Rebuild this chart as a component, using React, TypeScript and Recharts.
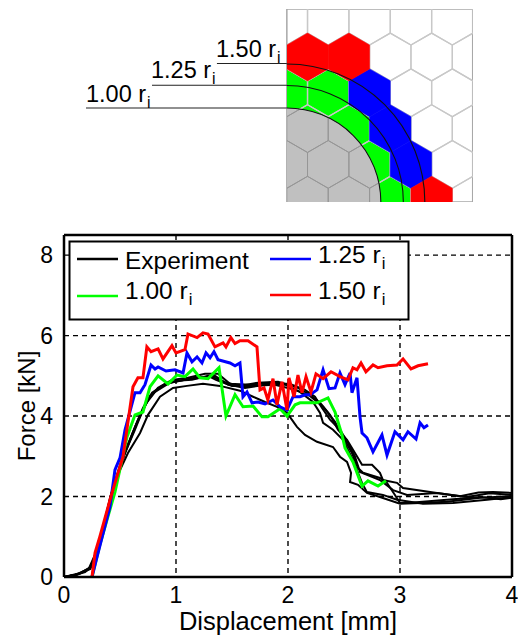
import { ComposedChart, Line, XAxis, YAxis, CartesianGrid, ReferenceLine, ScatterChart, Scatter, ReferenceArea } from 'recharts';

const FONT = '"Liberation Sans", Arial, sans-serif';

// force-displacement curves, [displacement mm, force kN]
const exp1 = [[0,0],[.098,.05],[.188,.12],[.25,.27],[.321,.8],[.42,1.99],[.5,2.66],[.571,3.08],[.679,3.58],[.75,4.03],[.857,4.48],[.973,4.7],[1.098,4.75],[1.241,4.8],[1.393,4.75],[1.571,4.63],[1.688,4.48],[1.795,4.35],[1.902,4.23],[1.991,4.08],[2.08,3.73],[2.152,3.53],[2.259,3.36],[2.402,3.23],[2.464,2.99],[2.527,2.86],[2.563,2.59],[2.554,2.36],[2.625,2.29],[2.705,2.09],[2.821,1.99],[3,1.82],[3.179,1.84],[3.42,1.87],[3.714,1.97],[4,2.01]];
const exp2 = [[0,0],[.125,.07],[.232,.22],[.304,.72],[.42,2.04],[.518,2.91],[.634,3.66],[.723,4.28],[.813,4.6],[.946,4.83],[1.08,4.9],[1.214,4.95],[1.348,5],[1.464,4.78],[1.616,4.7],[1.795,4.78],[1.973,4.78],[2.107,4.6],[2.223,4.35],[2.286,4.08],[2.313,3.83],[2.402,3.66],[2.491,3.41],[2.58,2.91],[2.661,2.34],[2.705,2.11],[2.848,2.04],[2.973,1.92],[3.205,1.82],[3.473,1.84],[3.777,1.92],[4,1.99]];
const exp3 = [[0,0],[.1,.05],[.22,.2],[.3,.7],[.429,2.11],[.536,3.01],[.643,3.78],[.75,4.4],[.839,4.7],[.964,4.9],[1.107,4.95],[1.259,5.05],[1.375,5.05],[1.482,4.8],[1.661,4.78],[1.839,4.83],[2.018,4.8],[2.152,4.65],[2.241,4.48],[2.304,4.2],[2.375,3.91],[2.464,3.66],[2.536,3.33],[2.598,2.99],[2.643,2.61],[2.821,2.41],[2.938,2.16],[3.063,2.04],[3.33,2.09],[3.598,1.99],[3.8,2.08],[4,2.04]];
const exp4 = [[0,0],[.15,.1],[.24,.25],[.31,.75],[.411,1.97],[.509,2.86],[.616,3.61],[.705,4.2],[.786,4.58],[.902,4.8],[1.036,4.88],[1.17,4.95],[1.321,4.98],[1.429,4.85],[1.571,4.75],[1.732,4.83],[1.911,4.85],[2.089,4.7],[2.196,4.53],[2.286,4.33],[2.375,4.03],[2.446,3.66],[2.527,3.41],[2.625,2.96],[2.661,2.79],[2.75,2.79],[2.821,2.59],[2.848,2.41],[2.973,2.34],[3.027,2.21],[3.33,2.09],[3.536,2.01],[3.7,2.1],[3.83,2.11],[4,2.09]];
const exp5 = [[0,0],[.12,.06],[.235,.2],[.31,.7],[.4375,2.16],[.545,3.11],[.661,3.91],[.768,4.5],[.875,4.75],[1,4.88],[1.143,4.9],[1.286,5],[1.357,4.9],[1.5,4.75],[1.679,4.75],[1.884,4.78],[2.063,4.65],[2.196,4.5],[2.313,4.23],[2.42,3.86],[2.491,3.48],[2.571,3.08],[2.625,2.71],[2.67,2.59],[2.821,2.46],[2.884,2.34],[2.955,2.04],[3,1.84],[3.063,1.84],[3.42,1.92],[3.714,1.99],[3.9,1.93],[4,1.97]];
const green100 = [[.25,0],[.32,.8],[.455,2.11],[.5625,3.48],[.634,4.03],[.705,4.1],[.768,4.73],[.84,5],[.929,4.8],[1.009,5.02],[1.08,4.98],[1.152,5.17],[1.214,4.95],[1.286,4.93],[1.384,5.2],[1.446,4],[1.527,4.53],[1.598,4.23],[1.688,4.25],[1.768,3.98],[1.821,3.98],[1.929,4.18],[1.991,4],[2.063,4.28],[2.107,4.33],[2.259,4.33],[2.357,4.45],[2.42,4.1],[2.482,3.53],[2.509,3.21],[2.58,2.86],[2.661,2.26],[2.714,2.39],[2.804,2.26],[2.875,2.39]];
const blue125 = [[.25,0],[.295,.5],[.41,1.74],[.455,2.66],[.5,2.96],[.545,3.66],[.634,4.58],[.679,4.58],[.723,4.78],[.777,5.27],[.813,5.17],[.84,5.22],[.911,5.12],[.991,5.15],[1.063,5.07],[1.098,5.57],[1.143,5.35],[1.188,5.47],[1.232,5.32],[1.268,5.57],[1.304,5.45],[1.339,5.6],[1.375,5.4],[1.482,5.32],[1.527,5.25],[1.571,5.32],[1.598,4.48],[1.634,4.6],[1.679,4.33],[1.732,4.35],[1.795,4.3],[1.866,4.4],[1.929,4.23],[1.991,4.15],[2.045,4.48],[2.107,4.48],[2.152,4.53],[2.196,4.53],[2.259,4.65],[2.313,5.15],[2.366,4.68],[2.42,4.7],[2.464,5.07],[2.509,4.78],[2.554,5.07],[2.571,4.58],[2.616,4.95],[2.643,3.98],[2.661,3.58],[2.705,3.46],[2.759,3.11],[2.839,3.53],[2.884,3.03],[2.955,3.61],[3.027,3.41],[3.071,3.61],[3.143,3.43],[3.179,3.83],[3.214,3.71],[3.25,3.78]];
const red150 = [[.25,0],[.277,.6],[.32,1],[.42,2.01],[.527,2.99],[.616,4.73],[.66,4.95],[.705,4.95],[.74,5.72],[.777,5.6],[.84,5.67],[.884,5.42],[.964,5.75],[1,5.57],[1.08,5.65],[1.107,6.04],[1.188,5.95],[1.241,6.07],[1.286,6.04],[1.348,5.72],[1.42,5.82],[1.446,5.72],[1.49,5.95],[1.527,5.8],[1.571,5.87],[1.643,5.87],[1.723,5.72],[1.75,4.65],[1.786,4.7],[1.82,4.4],[1.866,4.93],[1.902,4.28],[1.946,4.85],[1.991,4.15],[2.009,4.95],[2.054,4.48],[2.089,5.02],[2.125,4.58],[2.161,4.98],[2.205,4.6],[2.25,5.05],[2.313,4.93],[2.384,5.1],[2.464,4.98],[2.536,4.9],[2.58,5.2],[2.616,5.15],[2.652,5.32],[2.696,5.1],[2.759,5.27],[2.804,5.2],[2.884,5.25],[2.973,5.27],[3.027,5.42],[3.098,5.17],[3.161,5.25],[3.25,5.3]];

const xTicks = [0, 1, 2, 3, 4];
const yTicks = [0, 2, 4, 6, 8];
const experiments = [exp1, exp2, exp3, exp4, exp5];
const simulations = [
    { pts: green100, color: '#00ff00' },
    { pts: blue125, color: '#0000ff' },
    { pts: red150, color: '#ff0000' },
];

// inset: hexagon cells as [column, row] on the half-width / row grid
const allCells = [
    [1,0],[3,0],[5,0],[7,0],[9,0],
    [0,1],[2,1],[4,1],[6,1],[8,1],
    [1,2],[3,2],[5,2],[7,2],[9,2],
    [0,3],[2,3],[4,3],[6,3],[8,3],
    [1,4],[3,4],[5,4],[7,4],[9,4],
    [0,5],[2,5],[4,5],[6,5],[8,5],
];
const greenCells = [[1,0],[3,0],[5,0],[0,1],[2,1],[4,1],[1,2],[3,2],[0,3],[2,3]];
const blueCells = [[4,3],[5,2],[6,1]];
const redCells = [[1,4],[3,4],[7,0]];
const origin = [{ x: 0, y: -0.05 }];
const arcRadii = [94, 116.5, 138];
const leaders = [
    { from: -9.71, row: 2.575, label: '1.00 r', tx: 86, ty: 102 },
    { from: -6.52, row: 3.21, label: '1.25 r', tx: 151, ty: 78 },
    { from: -3.38, row: 3.82, label: '1.50 r', tx: 216, ty: 57 },
];

const legendItems = [
    { label: 'Experiment', color: '#000', x: 77, y: 259, tx: 125, ty: 269, sub: false },
    { label: '1.25 r', color: '#0000ff', x: 270, y: 259, tx: 318, ty: 263, sub: true },
    { label: '1.00 r', color: '#00ff00', x: 77, y: 296, tx: 125, ty: 299, sub: true },
    { label: '1.50 r', color: '#ff0000', x: 270, y: 295, tx: 318, ty: 299, sub: true },
];

const toXY = (c: number[]) => ({ x: c[0], y: c[1] });
const HEX_R = 23.9;
const HEX_W = 20.7;

function hexPoints(cx: number, cy: number) {
    return [
        [cx, cy - HEX_R], [cx + HEX_W, cy - HEX_R / 2], [cx + HEX_W, cy + HEX_R / 2],
        [cx, cy + HEX_R], [cx - HEX_W, cy + HEX_R / 2], [cx - HEX_W, cy - HEX_R / 2],
    ].map((p) => p.join(',')).join(' ');
}

const hexShape = (fill: string, stroke: string, sw: number, clip = 'squareClip') => (props: any) => (
    <polygon points={hexPoints(props.cx, props.cy)} fill={fill} stroke={stroke} strokeWidth={sw} clipPath={`url(#${clip})`} />
);

const diskShape = (props: any) => (
    <path d={`M${props.cx},${props.cy} L${props.cx},${props.cy - arcRadii[0]} A${arcRadii[0]},${arcRadii[0]} 0 0 1 ${props.cx + arcRadii[0]},${props.cy} Z`} fill="#c0c0c0" />
);

const arcShape = (props: any) => (
    <g>
        {arcRadii.map((r) => (
            <path key={r} d={`M${props.cx},${props.cy - r} A${r},${r} 0 0 1 ${props.cx + r},${props.cy}`} fill="none" stroke="#111" strokeWidth={1.1} />
        ))}
    </g>
);

function Inset() {
    return (
        <div style={{ position: 'absolute', left: 86, top: 9 }}>
            <ScatterChart width={387} height={193} margin={{ top: 0, right: 0, bottom: 0, left: 0 }} style={{ overflow: 'visible' }}>
                <defs>
                    <clipPath id="squareClip"><rect x={201} y={0} width={186} height={193} /></clipPath>
                    <clipPath id="diskClip"><path d="M201,193 L201,99 A94,94 0 0 1 295,193 Z" /></clipPath>
                </defs>
                <XAxis type="number" dataKey="x" domain={[-9.71, 8.986]} hide />
                <YAxis type="number" dataKey="y" domain={[-0.05, 5.34]} hide />
                <Scatter data={greenCells.map(toXY)} shape={hexShape('#00ff00', '#00ff00', 0.5)} isAnimationActive={false} />
                <Scatter data={allCells.map(toXY)} shape={hexShape('none', '#c8c8c8', 1.3)} isAnimationActive={false} />
                <Scatter data={origin} shape={diskShape} isAnimationActive={false} />
                <Scatter data={allCells.map(toXY)} shape={hexShape('none', '#969696', 1, 'diskClip')} isAnimationActive={false} />
                <Scatter data={blueCells.map(toXY)} shape={hexShape('#0000ff', '#0000ff', 0.5)} isAnimationActive={false} />
                <Scatter data={redCells.map(toXY)} shape={hexShape('#ff0000', '#ff0000', 0.5)} isAnimationActive={false} />
                <ReferenceArea x1={0} x2={8.986} y1={-0.05} y2={5.34} fill="none" stroke="#a8a8a8" strokeWidth={1.5} ifOverflow="visible" />
                <Scatter data={origin} shape={arcShape} isAnimationActive={false} />
                {leaders.map((l) => (
                    <ReferenceLine key={l.label} segment={[{ x: l.from, y: l.row }, { x: 0, y: l.row }]} stroke="#222" strokeWidth={1.1} ifOverflow="visible" />
                ))}
            </ScatterChart>
        </div>
    );
}

function SubText({ x, y, label, sub, size }: { x: number; y: number; label: string; sub: boolean; size: number }) {
    return (
        <text x={x} y={y} fontFamily={FONT} fontSize={size} fill="#000">
            {label}
            {sub && <tspan fontSize={size * 0.68} dx={1} dy={6}>i</tspan>}
        </text>
    );
}

function Overlay() {
    return (
        <svg width={518} height={639} style={{ position: 'absolute', left: 0, top: 0, pointerEvents: 'none' }}>
            {leaders.map((l) => (
                <SubText key={l.label} x={l.tx} y={l.ty} label={l.label} sub size={23.5} />
            ))}
            <rect x={69.5} y={241.5} width={339} height={78} fill="#fff" stroke="#000" strokeWidth={2} />
            {legendItems.map((it) => (
                <g key={it.label}>
                    <line x1={it.x} x2={it.x + 41} y1={it.y} y2={it.y} stroke={it.color} strokeWidth={2.5} />
                    <SubText x={it.tx} y={it.ty} label={it.label} sub={it.sub} size={24.5} />
                </g>
            ))}
        </svg>
    );
}

export default function App() {
    return (
        <div style={{ position: 'absolute', left: 0, top: 0, width: 518, height: 639, background: '#fff' }}>
            <Inset />
            <div style={{ position: 'absolute', left: 0, top: 0 }}>
                <ComposedChart width={518} height={639} margin={{ top: 235, right: 6, bottom: 0, left: 0 }}>
                    <CartesianGrid stroke="#000" strokeWidth={1.4} strokeDasharray="5 4" />
                    <XAxis
                        type="number"
                        dataKey="x"
                        domain={[0, 4]}
                        ticks={xTicks}
                        interval={0}
                        tickLine={false}
                        axisLine={{ stroke: '#000', strokeWidth: 2.5 }}
                        tick={{ fill: '#000', fontSize: 23, fontFamily: FONT }}
                        tickMargin={4}
                        height={62}
                        label={{ value: 'Displacement [mm]', position: 'insideBottom', offset: 9, fill: '#000', fontSize: 25.5, fontFamily: FONT }}
                    />
                    <YAxis
                        type="number"
                        dataKey="y"
                        domain={[0, 8.5]}
                        ticks={yTicks}
                        interval={0}
                        tickLine={false}
                        axisLine={{ stroke: '#000', strokeWidth: 2.5 }}
                        tick={{ fill: '#000', fontSize: 23, fontFamily: FONT }}
                        tickMargin={5}
                        width={64}
                        label={{ value: 'Force [kN]', angle: -90, position: 'insideLeft', offset: 26, fill: '#000', fontSize: 24, fontFamily: FONT, style: { textAnchor: 'middle' } }}
                    />
                    <ReferenceLine x={4} stroke="#000" strokeWidth={2.5} />
                    <ReferenceLine y={8.5} stroke="#000" strokeWidth={2.5} />
                    {experiments.map((pts, i) => (
                        <Line key={i} data={pts.map(toXY)} dataKey="y" stroke="#000" strokeWidth={2} dot={false} isAnimationActive={false} />
                    ))}
                    {simulations.map((s) => (
                        <Line key={s.color} data={s.pts.map(toXY)} dataKey="y" stroke={s.color} strokeWidth={3} dot={false} isAnimationActive={false} />
                    ))}
                </ComposedChart>
            </div>
            <Overlay />
        </div>
    );
}
